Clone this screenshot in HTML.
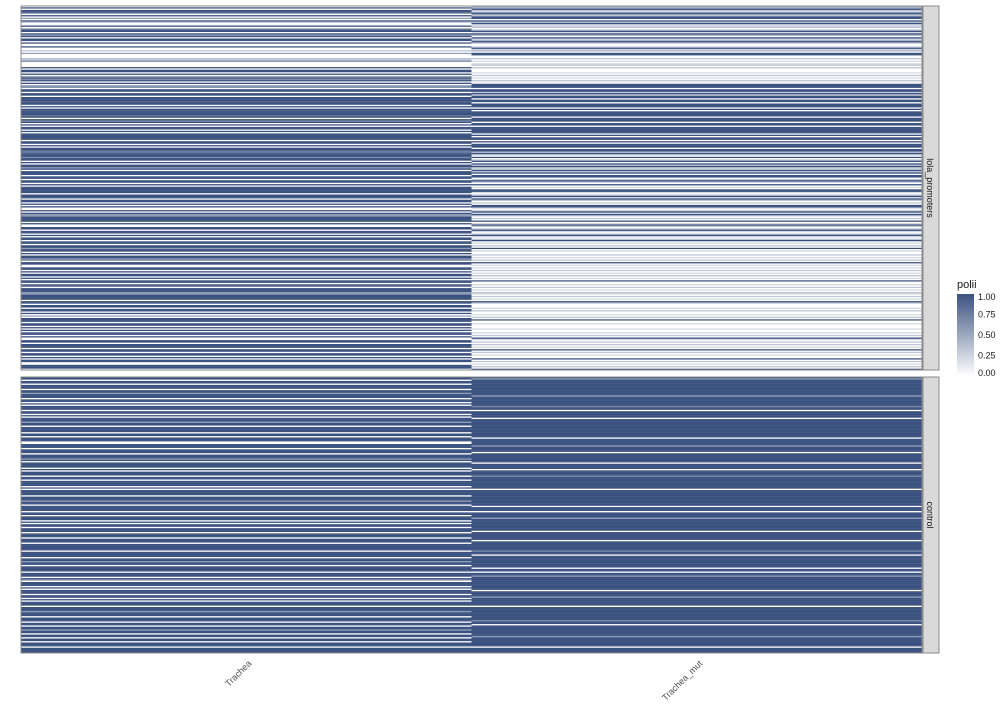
<!DOCTYPE html>
<html><head><meta charset="utf-8"><style>
html,body{margin:0;padding:0;background:#fff;}
svg text{font-family:"Liberation Sans","DejaVu Sans",sans-serif;}
</style></head><body>
<svg id="chart" width="1008" height="720" xmlns="http://www.w3.org/2000/svg">
<g id="cells"></g>
<rect x="21" y="6" width="901" height="364" fill="none" stroke="#8a8a8a" stroke-width="1"/>
<rect x="21" y="377" width="901" height="276" fill="none" stroke="#8a8a8a" stroke-width="1"/>
<rect x="923" y="6" width="16" height="364" fill="#d9d9d9" stroke="#8a8a8a"/>
<text transform="translate(927,188) rotate(90)" font-size="9" fill="#1a1a1a" text-anchor="middle">lola_promoters</text>
<rect x="923" y="377" width="16" height="276" fill="#d9d9d9" stroke="#8a8a8a"/>
<text transform="translate(927,515) rotate(90)" font-size="9" fill="#1a1a1a" text-anchor="middle">control</text>
<text transform="translate(252,664) rotate(-45)" font-size="9" fill="#4d4d4d" text-anchor="end">Trachea</text>
<text transform="translate(703,664) rotate(-45)" font-size="9" fill="#4d4d4d" text-anchor="end">Trachea_mut</text>
<text x="957" y="288" font-size="11" fill="#1a1a1a">polii</text>
<defs><linearGradient id="lg" x1="0" y1="1" x2="0" y2="0"><stop offset="0" stop-color="#ffffff"/><stop offset="1" stop-color="#3b5280"/></linearGradient></defs>
<rect x="957" y="294" width="17" height="82" fill="url(#lg)"/>
<g id="legend-ticks"></g>
</svg>
<script>
const columns = ["Trachea","Trachea_mut"];
const legendTicks = [0, 0.25, 0.5, 0.75, 1.0];
const legendLabels = ["0.00","0.25","0.50","0.75","1.00"];
const topTrachea = ("0909960905"+"0930090499"+"0959099090"+"0900305000"+"3360000909"+
"9090686909"+"0660990990"+"9998990909"+"8999790969"+"0909909099"+
"9990990909"+"9778996990"+"9099590999"+"0990990909"+"9999099909"+
"9090900909"+"5599990900"+"9909909099"+"0990995990"+"9099660990"+
"0990909909"+"0990880999"+"5599990990"+"9909909050"+"9990990909"+
"0990900990"+"9990990990"+"9099009990").split("").map(d=>+d/9);
const topTracheaMut = ("4493295399"+"0939223039"+"2940924930"+"0292409900"+
"3020230300"+"0203020302"+"9990993929"+
"9099099909"+"0999909990"+"9909999909"+"0990909990"+
"9939309039"+"0939329390"+"9903930902"+"0992039293"+"0309920392"+"9203090293"+"0392039203"+
"9020309020"+"0302030902"+"0203020302"+"0900203020"+"3203020930"+
"0020300203"+"0900200020"+"0203092030"+"3020903020"+"0903020309").split("").map(d=>+d/9);
const ctrlTrachea = ("9909909990"+"9959990990"+"9099909909"+"0999599099"+"9909909990"+
"0999099909"+"9959099990"+"9099909909"+"9990909999"+"0999599099"+
"9909909990"+"9099099909"+"9909990999"+"9909999099"+"5990999909"+
"9909509990"+"9099909909"+"0999099959"+"9909990990"+"9959909909"+
"9099909999").split("").map(d=>+d/9);
const ctrlTracheaMut = ("9599999999"+"9999599999"+"9969909999"+"9099999999"+"9999990999"+
"9959999099"+"9999909999"+"0999969999"+"9999909999"+"9999999909"+
"9909999599"+"9999999099"+"9999099999"+"9969909999"+"9999909909"+
"9599999999"+"9909999599"+"9999099999"+"9999969909"+"9999999599"+
"9999909999").split("").map(d=>+d/9);

const NS="http://www.w3.org/2000/svg";
function color(v){const r=Math.round(255+(59-255)*v),g=Math.round(255+(82-255)*v),b=Math.round(255+(128-255)*v);return `rgb(${r},${g},${b})`;}
function xScale(i){return 21+i*450.5;}
const cells=document.getElementById('cells');
function drawPanel(series,y0,h){
  const n=series[0].length, rh=h/n;
  series.forEach((vals,ci)=>{
    vals.forEach((v,ri)=>{
      const r=document.createElementNS(NS,'rect');
      r.setAttribute('x',xScale(ci));r.setAttribute('y',y0+ri*rh);
      r.setAttribute('width',450.5);r.setAttribute('height',rh+0.2);
      r.setAttribute('fill',color(v));
      
      
      cells.appendChild(r);
    });
  });
}
drawPanel([topTrachea,topTracheaMut],6,364);
drawPanel([ctrlTrachea,ctrlTracheaMut],377,276);
const lt=document.getElementById('legend-ticks');
legendTicks.forEach((t,i)=>{
  const y=376-t*82+(t===1?3:0)-(t===0?3:0);
  const tx=document.createElementNS(NS,'text');
  tx.setAttribute('x',978);tx.setAttribute('y',y+3);
  tx.setAttribute('font-size','9');tx.setAttribute('fill','#1a1a1a');
  tx.textContent=legendLabels[i];
  
  
  lt.appendChild(tx);
});
</script>
</body></html>
